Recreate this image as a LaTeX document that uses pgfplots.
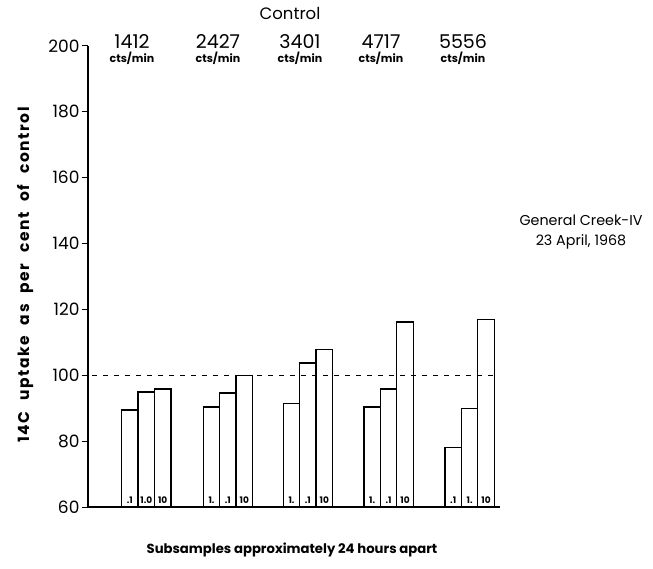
\documentclass[border=0pt]{standalone}
\usepackage{pgfplots}
\pgfplotsset{compat=1.18}
\usepackage{fontspec}
\setmainfont{Poppins}
\begin{document}
\begin{tikzpicture}[bl/.style={font=\bfseries\fontsize{9}{10}\selectfont, anchor=south, inner sep=1pt}]
\useasboundingbox (-88pt,-61pt) rectangle (565pt,507pt);
\pgfplotstableread{
x y
129.9 89.5
146.3 94.9
162.7 95.8
211.5 90.4
227.9 94.6
244.3 100
291.5 91.4
307.9 103.7
324.3 107.8
372.2 90.4
388.6 95.8
405.0 116.2
453.2 78.1
469.6 89.9
486.0 117
}\bars
\begin{axis}[
  scale only axis, width=412pt, height=461pt,
  xmin=88, xmax=500, ymin=60, ymax=200,
  axis x line=bottom, axis y line=left,
  axis line style={line width=1.2pt,-},
  xtick=\empty,
  ytick={60,80,...,200},
  tick align=outside, major tick length=6pt,
  tick style={line width=1pt,black},
  yticklabel style={font=\fontsize{17}{19}\selectfont, xshift=1pt},
  /pgf/number format/assume math mode=true,
  clip=false,
]
\addplot[ybar, bar width=16.4, fill=white, draw=black, line width=1.3pt] table[x=x,y=y]{\bars};
\addplot[dashed, line width=0.8pt, dash pattern=on 5pt off 6pt] coordinates {(92,100) (497,100)};
\node[bl] at (axis cs:129.9,60.8) {.1};
\node[bl] at (axis cs:146.3,60.8) {1.0};
\node[bl] at (axis cs:162.7,60.8) {10};
\node[bl] at (axis cs:211.5,60.8) {1.};
\node[bl] at (axis cs:227.9,60.8) {.1};
\node[bl] at (axis cs:244.3,60.8) {10};
\node[bl] at (axis cs:291.5,60.8) {1.};
\node[bl] at (axis cs:307.9,60.8) {.1};
\node[bl] at (axis cs:324.3,60.8) {10};
\node[bl] at (axis cs:372.2,60.8) {1.};
\node[bl] at (axis cs:388.6,60.8) {.1};
\node[bl] at (axis cs:405.0,60.8) {10};
\node[bl] at (axis cs:453.2,60.8) {.1};
\node[bl] at (axis cs:469.6,60.8) {1.};
\node[bl] at (axis cs:486.0,60.8) {10};
\end{axis}
% text in pixel positions: (X-88, 507-Y)
\node[font=\fontsize{16.5}{18}\selectfont] at (202pt,494pt) {Control};
\foreach \xp/\n in {44/1412,130/2427,212/3401,293/4717,375/5556}{
  \node[font=\fontsize{19}{21}\selectfont] at (\xp pt,465pt) {\n};
  \node[font=\bfseries\fontsize{11}{13}\selectfont] at (\xp pt,449pt) {cts/min};
}
\node[font=\fontsize{14.3}{20}\selectfont, align=center] at (493pt,275pt) {General Creek-IV\\23 April, 1968};
\node[font=\bfseries\fontsize{15.5}{17}\selectfont\addfontfeatures{LetterSpace=10}, rotate=90] at (-63pt,232pt) {14C\hspace{0.7em}uptake\hspace{0.7em}as\hspace{0.7em}per\hspace{0.7em}cent\hspace{0.7em}of\hspace{0.7em}control};
\node[font=\bfseries\fontsize{13.2}{15}\selectfont] at (204pt,-43pt) {Subsamples approximately 24 hours apart};
\end{tikzpicture}
\end{document}
